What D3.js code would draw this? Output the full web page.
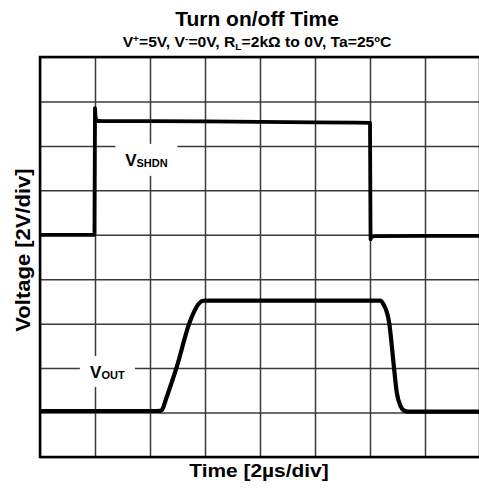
<!DOCTYPE html>
<html>
<head>
<meta charset="utf-8">
<script src="https://cdn.jsdelivr.net/npm/d3@7"></script>
<style>
  html, body { margin: 0; padding: 0; background: #fff; }
  svg { display: block; font-family: "Liberation Sans", Arial, sans-serif; font-weight: bold; }
</style>
</head>
<body>
<svg id="chart" width="479" height="488"></svg>
<script>
// Time axis: 2 µs per division, 8 divisions
const timeTicks = [0, 2, 4, 6, 8, 10, 12, 14, 16];
// Voltage axis: 2 V per division, 9 divisions
const voltTicks = [-2, 0, 2, 4, 6, 8, 10, 12, 14, 16];

// Channel offsets on screen (V)
const shdnOffset = 8;
const outOffset = 0;

// V_SHDN trace: time (µs) and voltage (V)
const shdnTime = [0, 1.0, 1.98, 2.0, 2.02, 2.06, 2.2, 4, 6, 8, 10, 11.5, 12.0, 12.02, 12.06, 12.2, 14, 16];
const shdnVolt = [0.0, 0.0, 0.0, 5.7, 5.3, 5.13, 5.12, 5.11, 5.1, 5.08, 5.06, 5.05, 5.04, -0.2, -0.08, -0.06, -0.05, -0.05];

// V_OUT trace: time (µs) and voltage (V)
const outTime = [0, 2, 4, 4.38, 4.45, 4.58, 4.97, 5.43, 5.6, 5.75, 5.94, 6.18, 8, 10, 12, 12.36, 12.5, 12.7, 12.87, 12.97, 13.12, 13.25, 13.39, 14, 16];
const outVolt = [0.07, 0.07, 0.07, 0.08, 0.15, 0.6, 2.04, 4.02, 4.53, 4.86, 5.03, 5.04, 5.04, 5.04, 5.04, 5.04, 4.85, 4.02, 2.05, 0.93, 0.27, 0.08, 0.04, 0.04, 0.04];

const svg = d3.select("#chart");
const plotLeft = 40, plotRight = 480, plotTop = 57, plotBottom = 457;

const x = d3.scaleLinear().domain([0, 16]).range([plotLeft, plotRight]);
const y = d3.scaleLinear().domain([-2, 16]).range([plotBottom, plotTop]);

// Grid
const grid = svg.append("g");
grid.append("g")
  .attr("transform", `translate(0,${plotBottom})`)
  .call(d3.axisBottom(x).tickValues(timeTicks).tickSize(-(plotBottom - plotTop)).tickFormat(""))
  .call(g => g.select(".domain").remove())
  .call(g => g.selectAll("line").attr("stroke", "#3a3a3a").attr("stroke-width", 1.5));
grid.append("g")
  .attr("transform", `translate(${plotLeft},0)`)
  .call(d3.axisLeft(y).tickValues(voltTicks).tickSize(-(plotRight - plotLeft)).tickFormat(""))
  .call(g => g.select(".domain").remove())
  .call(g => g.selectAll("line").attr("stroke", "#3a3a3a").attr("stroke-width", 1.5));

// Frame
svg.append("rect")
  .attr("x", plotLeft).attr("y", plotTop)
  .attr("width", plotRight - plotLeft).attr("height", plotBottom - plotTop)
  .attr("fill", "none").attr("stroke", "#000").attr("stroke-width", 2.5);

// Traces
const shdnData = shdnTime.map((t, i) => [t, shdnVolt[i] + shdnOffset]);
const outData = outTime.map((t, i) => [t, outVolt[i] + outOffset]);

svg.append("path").datum(shdnData)
  .attr("d", d3.line().x(d => x(d[0])).y(d => y(d[1])))
  .attr("fill", "none").attr("stroke", "#000").attr("stroke-width", 3.8)
  .attr("stroke-linejoin", "round");
svg.append("path").datum(outData)
  .attr("d", d3.line().x(d => x(d[0])).y(d => y(d[1])).curve(d3.curveMonotoneX))
  .attr("fill", "none").attr("stroke", "#000").attr("stroke-width", 4.2)
  .attr("stroke-linejoin", "round");

// Trace labels on white patches
function traceLabel(t, v, main, sub, bw, bh) {
  const g = svg.append("g").attr("transform", `translate(${x(t)},${y(v)})`);
  g.append("rect").attr("x", -bw / 2).attr("y", -bh / 2).attr("width", bw).attr("height", bh).attr("fill", "#fff");
  const txt = g.append("text").attr("text-anchor", "middle").attr("y", 6.5).attr("font-size", 17);
  txt.append("tspan").text(main);
  txt.append("tspan").attr("font-size", 11).attr("dy", 1).text(sub);
}
traceLabel(3.87, 11.37, "V", "SHDN", 62, 32);
traceLabel(2.45, 1.85, "V", "OUT", 55, 31);

// Slightly widened bold text
function wideText(tx, ty, rot, size, sx) {
  return svg.append("text")
    .attr("transform", `translate(${tx},${ty}) rotate(${rot}) scale(${sx},1)`)
    .attr("text-anchor", "middle").attr("font-size", size);
}

// Titles
wideText(257, 26, 0, 20, 1.05).text("Turn on/off Time");
const sub = wideText(257, 46.5, 0, 14, 1.12);
sub.append("tspan").text("V");
sub.append("tspan").attr("font-size", 9).attr("dy", -5).text("+");
sub.append("tspan").attr("dy", 5).text("=5V, V");
sub.append("tspan").attr("font-size", 9).attr("dy", -5).text("-");
sub.append("tspan").attr("dy", 5).text("=0V, R");
sub.append("tspan").attr("font-size", 9).attr("dy", 3).text("L");
sub.append("tspan").attr("dy", -3).text("=2kΩ to 0V, Ta=25ºC");

// Axis titles
wideText(259, 477, 0, 19, 1.1).text("Time [2µs/div]");
wideText(30, 250, -90, 20, 1.1).text("Voltage [2V/div]");
</script>
</body>
</html>
